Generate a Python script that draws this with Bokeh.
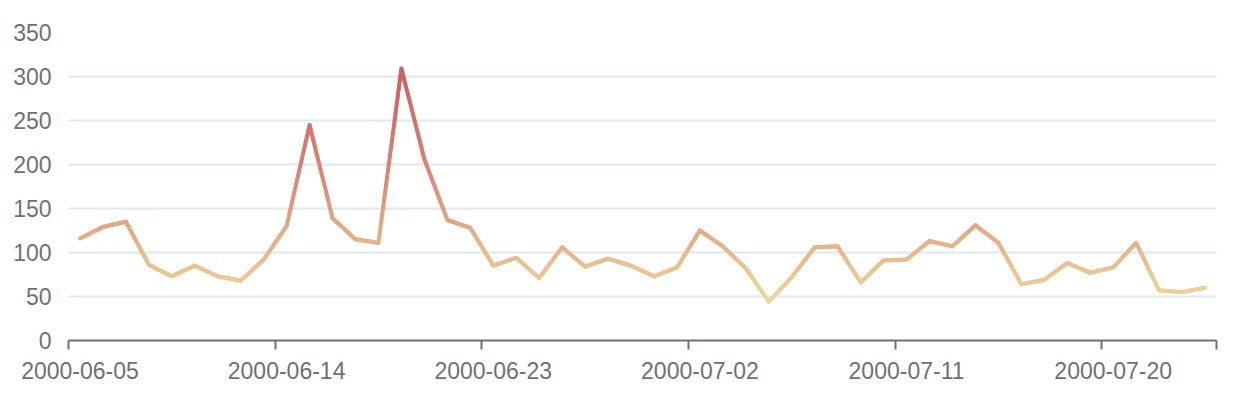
import numpy as np
from bokeh.plotting import figure
from bokeh.models import Range1d, FixedTicker, ColumnDataSource
from bokeh.embed import file_html
from bokeh.resources import INLINE

dates = ["2000-06-05", "2000-06-06", "2000-06-07", "2000-06-08", "2000-06-09", "2000-06-10",
         "2000-06-11", "2000-06-12", "2000-06-13", "2000-06-14", "2000-06-15", "2000-06-16",
         "2000-06-17", "2000-06-18", "2000-06-19", "2000-06-20", "2000-06-21", "2000-06-22",
         "2000-06-23", "2000-06-24", "2000-06-25", "2000-06-26", "2000-06-27", "2000-06-28",
         "2000-06-29", "2000-06-30", "2000-07-01", "2000-07-02", "2000-07-03", "2000-07-04",
         "2000-07-05", "2000-07-06", "2000-07-07", "2000-07-08", "2000-07-09", "2000-07-10",
         "2000-07-11", "2000-07-12", "2000-07-13", "2000-07-14", "2000-07-15", "2000-07-16",
         "2000-07-17", "2000-07-18", "2000-07-19", "2000-07-20", "2000-07-21", "2000-07-22",
         "2000-07-23", "2000-07-24"]
values = [116, 129, 135, 86, 73, 85, 73, 68, 92, 130, 245, 139, 115, 111, 309, 206, 137, 128,
          85, 94, 71, 106, 84, 93, 85, 73, 83, 125, 107, 82, 44, 72, 106, 107, 66, 91, 92, 113,
          107, 131, 111, 64, 69, 88, 77, 83, 111, 57, 55, 60]
y_ticks = [0, 50, 100, 150, 200, 250, 300, 350]
label_interval = 9
vm_min, vm_max = 0, 400
vm_colors = ["#f6efa6", "#d88273", "#bf444c"]

AXIS_COLOR = "#6E7079"
GRID_COLOR = "#E0E6F1"
FONT = "Liberation Sans"
FONT_SIZE = "23px"


def hex_to_rgb(h):
    h = h.lstrip("#")
    return np.array([int(h[i:i + 2], 16) for i in (0, 2, 4)], dtype=float)


stops = [hex_to_rgb(c) for c in vm_colors]


def color_for(v):
    t = (v - vm_min) / (vm_max - vm_min)
    t = min(max(t, 0.0), 1.0)
    n = len(stops) - 1
    pos = t * n
    i = min(int(pos), n - 1)
    f = pos - i
    c = stops[i] * (1 - f) + stops[i + 1] * f
    return "#%02x%02x%02x" % tuple(int(round(x)) for x in c)


n = len(dates)
xs = [i + 0.5 for i in range(n)]

# subdivide line segments to mimic vertical colour gradient
sub = 24
x0, y0, x1, y1, cols = [], [], [], [], []
for i in range(n - 1):
    for k in range(sub):
        a = k / sub
        b = (k + 1) / sub
        xa = xs[i] + (xs[i + 1] - xs[i]) * a
        xb = xs[i] + (xs[i + 1] - xs[i]) * b
        ya = values[i] + (values[i + 1] - values[i]) * a
        yb = values[i] + (values[i + 1] - values[i]) * b
        x0.append(xa); x1.append(xb); y0.append(ya); y1.append(yb)
        cols.append(color_for((ya + yb) / 2))

src = ColumnDataSource(dict(x0=x0, y0=y0, x1=x1, y1=y1, c=cols))

p = figure(width=1226, height=390, output_backend="svg", toolbar_location=None,
           x_range=Range1d(0, n), y_range=Range1d(y_ticks[0], y_ticks[-1]),
           min_border_left=68, min_border_right=10, min_border_top=32, min_border_bottom=50)
p.outline_line_color = None
p.background_fill_color = "white"
p.border_fill_color = "white"

p.segment(x0="x0", y0="y0", x1="x1", y1="y1", color="c", line_width=4,
          line_cap="round", source=src)

# x axis
label_pos = [i + 0.5 for i in range(0, n, label_interval)]
tick_pos = list(range(0, n, label_interval)) + [n]
p.xaxis.ticker = FixedTicker(ticks=label_pos, minor_ticks=tick_pos)
p.xaxis.major_label_overrides = {i + 0.5: dates[i] for i in range(0, n, label_interval)}
p.xaxis.axis_line_color = AXIS_COLOR
p.xaxis.axis_line_width = 2
p.xaxis.major_tick_line_color = None
p.xaxis.major_tick_out = 0
p.xaxis.major_tick_in = 0
p.xaxis.minor_tick_line_color = AXIS_COLOR
p.xaxis.minor_tick_line_width = 2
p.xaxis.minor_tick_out = 9
p.xaxis.minor_tick_in = 0
p.xaxis.major_label_standoff = 12
p.xaxis.major_label_text_color = AXIS_COLOR
p.xaxis.major_label_text_font = FONT
p.xaxis.major_label_text_font_size = FONT_SIZE
p.xgrid.visible = False

# y axis
p.yaxis.ticker = FixedTicker(ticks=y_ticks)
p.yaxis.axis_line_color = None
p.yaxis.major_tick_line_color = None
p.yaxis.minor_tick_line_color = None
p.yaxis.major_tick_out = 0
p.yaxis.major_label_standoff = 17
p.yaxis.major_label_text_color = AXIS_COLOR
p.yaxis.major_label_text_font = FONT
p.yaxis.major_label_text_font_size = FONT_SIZE
p.ygrid.grid_line_color = GRID_COLOR
p.ygrid.grid_line_width = 2

open("out.html", "w").write(file_html(p, INLINE))
